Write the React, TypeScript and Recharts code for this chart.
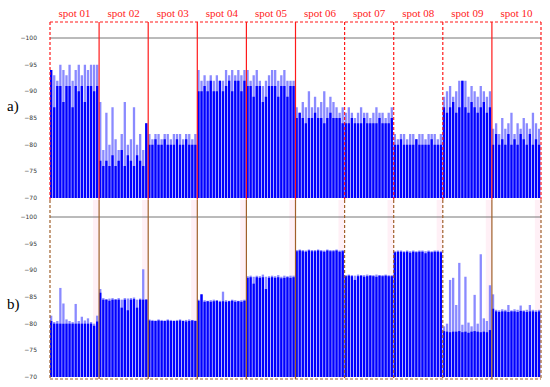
import React from 'react';
import { ComposedChart, Bar, XAxis, YAxis, ReferenceLine, ReferenceArea } from 'recharts';

const spotLabels = ['spot 01', 'spot 02', 'spot 03', 'spot 04', 'spot 05', 'spot 06', 'spot 07', 'spot 08', 'spot 09', 'spot 10'];
const yTicks = [-100, -95, -90, -85, -80, -75, -70];

// panel a) solid level and lighter peak per bar, 16 bars per spot
const aLevel = [
  [-94, -87, -91, -91, -88, -91, -91, -87, -91, -90, -91, -88, -91, -91, -90, -91],
  [-77, -76, -77, -76, -78, -76, -77, -79, -76, -78, -77, -76, -78, -77, -76, -84],
  [-80, -80, -81, -80, -80, -81, -80, -80, -80, -81, -80, -80, -81, -80, -80, -80],
  [-90, -90, -91, -90, -92, -90, -90, -92, -90, -91, -92, -90, -92, -92, -90, -92],
  [-91, -91, -89, -91, -91, -88, -89, -91, -91, -91, -89, -91, -91, -89, -91, -91],
  [-85, -86, -85, -84, -85, -85, -86, -85, -85, -84, -85, -86, -85, -85, -85, -84],
  [-84, -84, -85, -84, -84, -84, -85, -84, -84, -84, -84, -85, -84, -84, -84, -85],
  [-80, -80, -81, -80, -80, -80, -80, -81, -80, -80, -80, -80, -81, -80, -80, -80],
  [-87, -86, -87, -88, -86, -87, -92, -87, -86, -88, -87, -86, -87, -88, -86, -87],
  [-80, -82, -80, -81, -80, -82, -80, -81, -80, -82, -81, -80, -82, -80, -81, -80],
];
const aPeak = [
  [-94, -93, -92, -95, -94, -93, -95, -92, -94, -95, -93, -95, -94, -95, -95, -95],
  [-88, -79, -86, -80, -87, -81, -79, -82, -88, -80, -81, -87, -80, -82, -79, -84],
  [-82, -81, -82, -82, -81, -82, -82, -81, -82, -82, -82, -81, -82, -82, -81, -82],
  [-94, -92, -93, -92, -93, -92, -93, -92, -92, -94, -93, -94, -93, -94, -93, -94],
  [-94, -92, -93, -94, -92, -91, -92, -93, -94, -94, -92, -93, -94, -92, -92, -92],
  [-87, -86, -88, -87, -90, -87, -89, -87, -88, -90, -87, -89, -88, -87, -86, -87],
  [-86, -87, -86, -85, -86, -87, -86, -86, -85, -86, -87, -86, -86, -85, -86, -87],
  [-82, -81, -82, -82, -81, -82, -82, -81, -82, -82, -81, -82, -82, -82, -81, -82],
  [-89, -90, -91, -89, -90, -92, -92, -92, -89, -91, -90, -89, -91, -90, -89, -90],
  [-83, -84, -82, -85, -83, -84, -86, -82, -84, -83, -85, -84, -83, -86, -84, -83],
];

// panel b)
const bLevel = [
  [-80.5, -80, -80, -80, -80, -80, -80, -80, -80, -80, -80, -80, -80, -80, -79.6, -80.4],
  [-85.8, -84.5, -84.5, -84.3, -84.5, -84.5, -84.5, -83, -84.5, -82.5, -84.5, -84.6, -83, -84.5, -84.5, -84.5],
  [-80.6, -80.5, -80.5, -80.6, -80.5, -80.5, -80.6, -80.5, -80.5, -80.5, -80.6, -80.5, -80.4, -80.5, -80.6, -80.5],
  [-84.3, -85.5, -84.1, -84.2, -84.1, -84.2, -84.3, -84.1, -84.2, -84.1, -84.2, -84.3, -84.1, -84.2, -84.1, -84.3],
  [-88.6, -88.7, -87.5, -88.7, -88.6, -88.7, -86.5, -88.6, -88.7, -88.6, -88.7, -88.5, -88.6, -88.7, -88.6, -88.7],
  [-93.6, -93.7, -93.6, -93.5, -93.7, -93.6, -93.6, -93.7, -93.6, -93.5, -93.7, -93.6, -93.6, -93.7, -93.5, -93.6],
  [-88.9, -89, -88.9, -88.2, -88.9, -89, -88.8, -88.9, -89, -88.9, -88.8, -89, -88.9, -89, -88.9, -88.9],
  [-93.4, -93.5, -93.5, -93.4, -93.5, -93.3, -93.5, -93.4, -93.5, -93.5, -93.2, -93.5, -93.4, -93.5, -93.5, -93.4],
  [-78.6, -78.5, -78.4, -78.5, -78.5, -78.6, -78.4, -78.5, -78.3, -78.5, -78.6, -78.5, -78.4, -78.5, -78.4, -78.8],
  [-82.8, -82.3, -82.2, -82.3, -82.3, -82.2, -82.3, -82.3, -82.2, -82.4, -82.3, -82.2, -82.3, -82.3, -82.2, -82.3],
];
const bPeak = [
  [-81.5, -80.3, -80.5, -86.7, -83.8, -80.8, -80.5, -80.3, -83.7, -80.5, -81.3, -80.6, -81, -80.3, -80, -81.5],
  [-86.5, -84.8, -84.6, -84.7, -84.8, -84.6, -84.8, -84.5, -84.8, -84.7, -84.8, -84.9, -84.5, -84.7, -90.2, -84.6],
  [-80.8, -80.7, -80.6, -80.8, -80.7, -80.6, -80.8, -80.7, -80.6, -80.7, -80.8, -80.6, -80.7, -80.8, -80.7, -80.6],
  [-84.5, -85.5, -84.4, -84.3, -84.4, -84.5, -84.4, -84.3, -86, -84.4, -84.3, -84.5, -84.4, -84.3, -84.4, -84.5],
  [-88.9, -89, -88.8, -89, -88.9, -89.2, -88.8, -88.9, -89, -88.9, -89.1, -88.8, -89, -88.9, -89, -89],
  [-93.8, -93.9, -93.8, -93.7, -93.9, -93.8, -93.8, -93.9, -93.8, -93.7, -93.9, -93.8, -93.8, -93.9, -93.7, -93.8],
  [-89.1, -89.2, -89.1, -89, -89.2, -89.1, -89.1, -89.2, -89.1, -89.1, -89.2, -89.1, -89.1, -89.2, -89.1, -89.1],
  [-93.6, -93.7, -93.7, -93.6, -93.7, -93.6, -93.7, -93.6, -93.7, -93.7, -93.6, -93.7, -93.6, -93.7, -93.7, -93.6],
  [-79.5, -80, -88.2, -88.6, -83.5, -91.4, -79.8, -88.8, -80.2, -79.5, -85.4, -80, -93, -81, -80.5, -87.2],
  [-85.5, -82.6, -82.5, -82.7, -82.6, -83.5, -82.5, -82.7, -82.6, -83.4, -82.5, -82.6, -83.5, -82.6, -82.5, -82.6],
];

const PER_SPOT = 16;
const TOTAL = PER_SPOT * spotLabels.length;
const BASE = -70;
const dashedAt = [0, 6, 7, 8, 10];
const SERIF = "'Liberation Serif', 'DejaVu Serif', serif";

const toRows = (lvl: number[][], pk: number[][]) =>
  lvl.flatMap((spot, s) => spot.map((v, j) => ({ x: s * PER_SPOT + j + 0.5, lvl: v, pk: pk[s][j] })));

const fmt = (v: number) => String(v).replace('-', '\u2212');

type PanelProps = {
  rows: { x: number; lvl: number; pk: number }[];
  height: number;
  top: number;
  bottom: number;
  boxTop: number;
  boxBottom: number;
  color: string;
  first?: boolean;
};

const Panel = ({ rows, height, top, bottom, boxTop, boxBottom, color, first }: PanelProps) => (
  <ComposedChart width={550} height={height} data={rows} margin={{ top, right: 9, bottom, left: 0 }}>
    <XAxis xAxisId="pk" dataKey="x" type="number" domain={[0, TOTAL]} hide />
    <XAxis xAxisId="lvl" dataKey="x" type="number" domain={[0, TOTAL]} hide />
    <YAxis
      type="number"
      domain={[-100, -70]}
      reversed
      allowDataOverflow
      ticks={yTicks}
      interval={0}
      width={50}
      axisLine={false}
      tickLine={false}
      tickSize={0}
      tickMargin={13}
      tickFormatter={fmt}
      tick={{ fontSize: 6, fill: '#333', fontFamily: 'DejaVu Sans' }}
    />
    {!first &&
      spotLabels.map((_, k) => (
        <ReferenceArea
          key={`pink-${k}`}
          xAxisId="lvl"
          x1={(k + 1) * PER_SPOT - 2}
          x2={(k + 1) * PER_SPOT}
          y1={boxTop}
          y2={boxBottom}
          fill="#fff0f6"
          fillOpacity={1}
          stroke="none"
          ifOverflow="visible"
        />
      ))}
    <ReferenceLine xAxisId="lvl" y={-100} stroke="#777" strokeWidth={1} ifOverflow="visible" />
    <Bar xAxisId="pk" dataKey={(d: any) => [BASE, d.pk]} fill="#8a8aff" barSize={2.3} isAnimationActive={false} />
    <Bar xAxisId="lvl" dataKey={(d: any) => [BASE, d.lvl]} fill="#0000ff" barSize={2.3} isAnimationActive={false} />
    {first &&
      spotLabels.map((label, k) => (
        <ReferenceArea
          key={`lab-${k}`}
          xAxisId="lvl"
          x1={k * PER_SPOT}
          x2={(k + 1) * PER_SPOT}
          y1={boxTop}
          y2={boxTop + 0.01}
          fill="none"
          stroke="none"
          ifOverflow="visible"
          label={{ value: label, position: 'top', offset: 5, fill: '#ff1a1a', fontSize: 11, fontFamily: SERIF }}
        />
      ))}
    {spotLabels.concat(['']).map((_, k) => (
      <ReferenceLine
        key={`div-${k}`}
        xAxisId="lvl"
        segment={[{ x: k * PER_SPOT, y: boxTop }, { x: k * PER_SPOT, y: boxBottom }]}
        stroke={color}
        strokeWidth={1.2}
        strokeDasharray={dashedAt.includes(k) ? '3 2' : undefined}
        ifOverflow="visible"
      />
    ))}
    <ReferenceLine
      xAxisId="lvl"
      segment={first ? [{ x: 0, y: boxTop }, { x: TOTAL, y: boxTop }] : [{ x: 0, y: boxBottom }, { x: TOTAL, y: boxBottom }]}
      stroke={color}
      strokeWidth={1.2}
      strokeDasharray="3 2"
      ifOverflow="visible"
    />
  </ComposedChart>
);

const panelLabel: React.CSSProperties = {
  position: 'absolute',
  left: 7,
  fontFamily: SERIF,
  fontSize: 15,
  color: '#000',
  lineHeight: '16px',
};

export default function App() {
  const rowsA = toRows(aLevel, aPeak);
  const rowsB = toRows(bLevel, bPeak);
  return (
    <div style={{ position: 'absolute', left: 0, top: 0, width: 550, height: 387, background: '#fff' }}>
      <div style={{ position: 'absolute', left: 0, top: 0 }}>
        <Panel rows={rowsA} height={200} top={38} bottom={2} boxTop={-103} boxBottom={-69.65} color="#ff1a1a" first />
      </div>
      <div style={{ position: 'absolute', left: 0, top: 200 }}>
        <Panel rows={rowsB} height={187} top={17} bottom={10} boxTop={-103.19} boxBottom={-69.625} color="#a0602a" />
      </div>
      <div style={{ ...panelLabel, top: 98 }}>a)</div>
      <div style={{ ...panelLabel, top: 296 }}>b)</div>
    </div>
  );
}
